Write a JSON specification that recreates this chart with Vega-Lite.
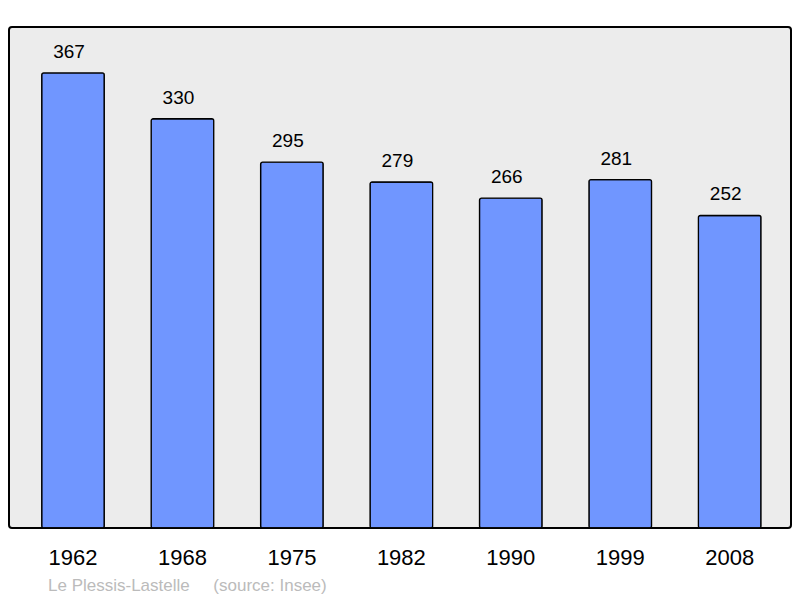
{
  "$schema": "https://vega.github.io/schema/vega-lite/v6.json",
  "autosize": "none",
  "width": 782,
  "height": 501,
  "padding": {"left": 9, "top": 27, "right": 9, "bottom": 70},
  "background": "white",
  "title": {
    "text": "Le Plessis-Lastelle \u00a0\u00a0\u00a0\u00a0(source: Insee)",
    "orient": "bottom",
    "anchor": "start",
    "dx": 39,
    "offset": 10,
    "font": "Liberation Sans",
    "fontSize": 17,
    "fontWeight": "normal",
    "color": "#bbbbbb"
  },
  "data": {
    "values": [
      {"year": "1962", "population": 367},
      {"year": "1968", "population": 330},
      {"year": "1975", "population": 295},
      {"year": "1982", "population": 279},
      {"year": "1990", "population": 266},
      {"year": "1999", "population": 281},
      {"year": "2008", "population": 252}
    ]
  },
  "encoding": {
    "x": {
      "field": "year", "type": "ordinal",
      "scale": {"range": [32.7, 752], "paddingInner": 0.428, "paddingOuter": 0},
      "axis": {
        "title": null, "domain": false, "ticks": false,
        "labelAngle": 0, "labelFont": "Liberation Sans",
        "labelFontSize": 22, "labelColor": "#000", "labelPadding": 19
      }
    },
    "y": {
      "field": "population", "type": "quantitative",
      "scale": {"domain": [0, 404], "nice": false},
      "axis": null
    }
  },
  "layer": [
    {
      "mark": {"type": "bar", "color": "#7096ff", "stroke": "#000", "strokeWidth": 1.3, "cornerRadius": 2}
    },
    {
      "mark": {"type": "text", "baseline": "alphabetic", "dx": -4, "dy": -15, "font": "Liberation Sans", "fontSize": 19, "color": "#000"},
      "encoding": {"text": {"field": "population"}}
    }
  ],
  "config": {
    "view": {"fill": "#ececec", "stroke": "#000", "strokeWidth": 2, "cornerRadius": 3}
  }
}
